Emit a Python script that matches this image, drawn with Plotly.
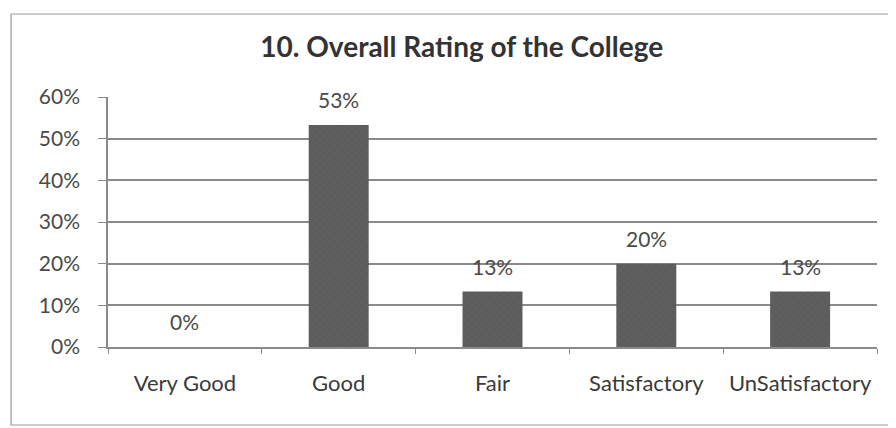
import plotly.graph_objects as go

categories = ['Very Good', 'Good', 'Fair', 'Satisfactory', 'UnSatisfactory']
ratings = [0.0, 0.533, 0.133, 0.20, 0.133]
y_ticks = [0, 0.1, 0.2, 0.3, 0.4, 0.5, 0.6]

font_name = 'Lato, Open Sans, sans-serif'

fig = go.Figure()
fig.add_trace(go.Bar(
	x=categories, y=ratings,
	marker=dict(color='#5c5c5c', line=dict(width=0),
		pattern=dict(shape='x', size=5, solidity=0.15, fgcolor='#747474')),
	hoverinfo='x+y',
))

# data labels sit a bit above the bars (excel style)
for cat, val in zip(categories, ratings):
	fig.add_annotation(x=cat, y=val, text=f'{val:.0%}', showarrow=False,
		yanchor='bottom', yshift=11, font=dict(size=21, color='#4a4a4a', family=font_name))

# outer chart border
fig.add_shape(type='rect', xref='paper', yref='paper',
	x0=-0.1261, x1=1.0208, y0=-0.312, y1=1.332,
	line=dict(color='#9a9a9a', width=1.2), layer='below')

fig.update_layout(
	width=888, height=420,
	margin=dict(l=100, r=19, t=89, b=81),
	paper_bgcolor='white', plot_bgcolor='white',
	title=dict(text='<b>10. Overall Rating of the College</b>', x=0.511, xanchor='center',
		y=0.907, yanchor='middle', font=dict(size=28, color='#333333', family=font_name)),
	bargap=0.61,
	showlegend=False,
	xaxis=dict(showline=True, linecolor='#8a8a8a', linewidth=1.5,
		ticks='outside', tickson='boundaries', ticklen=5, tickcolor='#8a8a8a',
		tickfont=dict(size=22, color='#3a3a3a', family=font_name), ticklabelstandoff=16),
	yaxis=dict(range=[0, 0.6], tickvals=y_ticks, tickformat='.0%',
		showgrid=True, gridcolor='#8a8a8a', gridwidth=1.5,
		showline=True, linecolor='#8a8a8a', linewidth=1.5,
		ticks='outside', ticklen=8, tickcolor='#8a8a8a', ticklabelstandoff=14,
		tickfont=dict(size=21, color='#4a4a4a', family=font_name), zeroline=False),
)

fig.write_html('out.html')
